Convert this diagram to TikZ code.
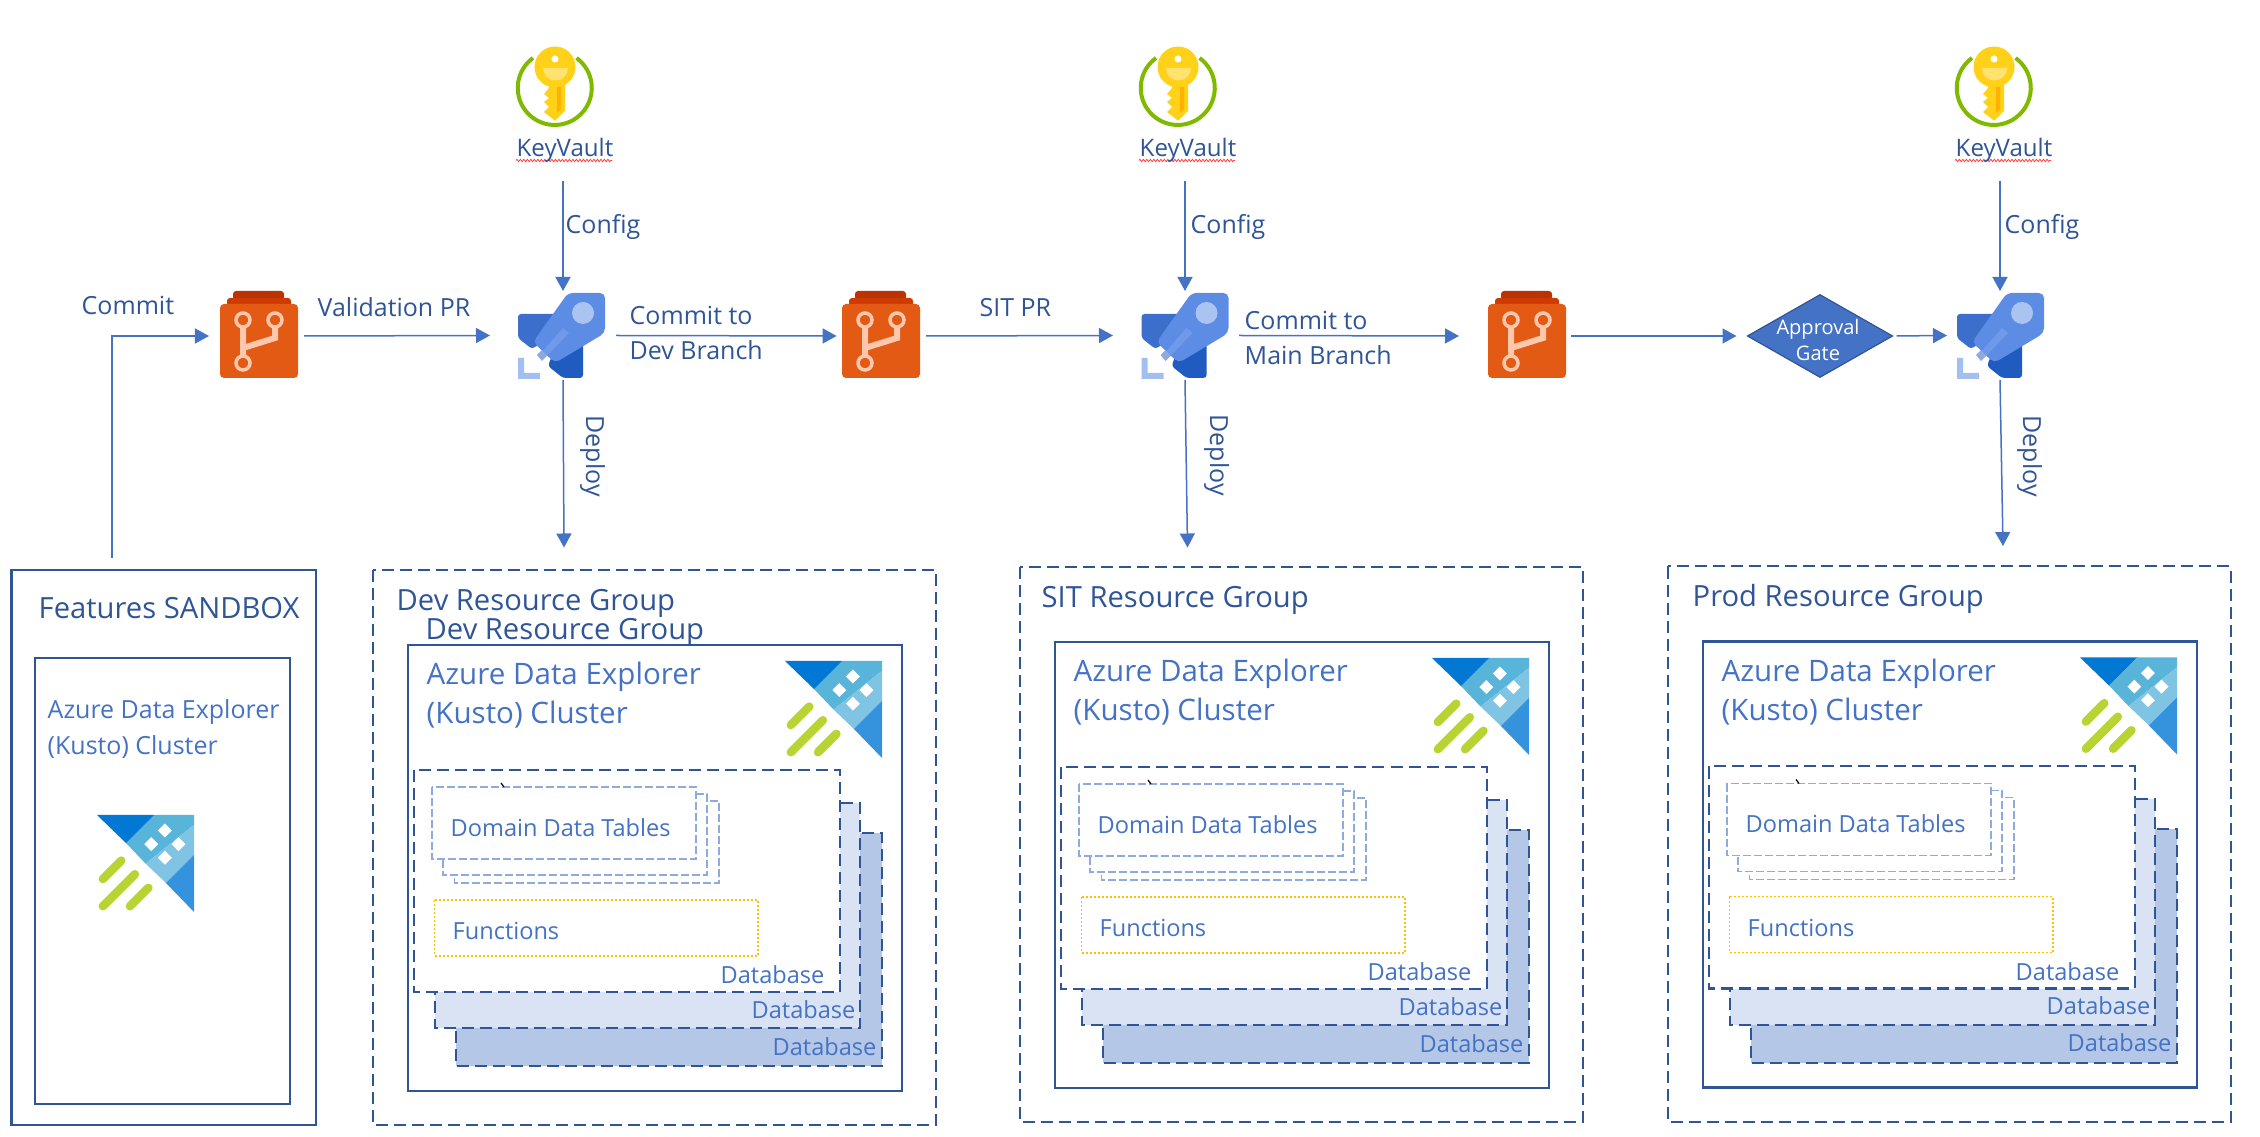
\documentclass[tikz,border=0pt]{standalone}
\usepackage{fontspec}
\setmainfont{Open Sans}
\usetikzlibrary{arrows.meta,shapes.geometric,decorations.pathmorphing}
\definecolor{cline}{HTML}{4472C4}
\definecolor{cdark}{HTML}{2F5597}
\definecolor{cdt}{HTML}{8FAADC}
\definecolor{cfun}{HTML}{FFC000}
\definecolor{cdbb}{HTML}{DAE3F3}
\definecolor{cdbc}{HTML}{B4C7E7}
\definecolor{repoa}{HTML}{E25A14}
\definecolor{repob}{HTML}{CF3A00}
\definecolor{repoc}{HTML}{BB3300}
\definecolor{repol}{HTML}{FFC7AC}
\definecolor{pipea}{HTML}{3B6FCB}
\definecolor{pipeb}{HTML}{205BC0}
\definecolor{pipec}{HTML}{5C8CE3}
\definecolor{piped}{HTML}{AAC3F0}
\definecolor{pipee}{HTML}{6F9AEC}
\definecolor{pipef}{HTML}{A3BFF2}
\definecolor{keya}{HTML}{FFD118}
\definecolor{keyb}{HTML}{FFE270}
\definecolor{keyc}{HTML}{FFB100}
\definecolor{keyr}{HTML}{7FB900}
\definecolor{kua}{HTML}{0078D4}
\definecolor{kub}{HTML}{59B4D9}
\definecolor{kuc}{HTML}{7FC4E2}
\definecolor{kud}{HTML}{3592DC}
\definecolor{kue}{HTML}{B8D432}
\tikzset{
  hit/.style 2 args={minimum width=#1*0.01cm,minimum height=#2*0.01cm,inner sep=0pt,outer sep=0pt},
  conn/.style={draw=cline,line width=0.015cm,-{Triangle[width=0.15cm,length=0.14cm]}},
  lab/.style={anchor=base west,inner sep=0pt,text=cdark,font=\fontsize{7.1pt}{8pt}\selectfont},
  kvl/.style={anchor=base west,inner sep=0pt,text=cdark,font=\fontsize{6.85pt}{8pt}\selectfont},
  ttl/.style={anchor=base west,inner sep=0pt,text=cdark,font=\fontsize{8.3pt}{9pt}\selectfont},
  big/.style={anchor=base west,inner sep=0pt,text=cline,font=\fontsize{8.4pt}{9pt}\selectfont},
  mid/.style={anchor=base west,inner sep=0pt,text=cline,font=\fontsize{6.7pt}{8pt}\selectfont},
  sml/.style={anchor=base west,inner sep=0pt,text=cline,font=\fontsize{7.1pt}{8pt}\selectfont},
  solidbox/.style={draw=cdark,line width=0.025cm},
  rgbox/.style={draw=cdark,line width=0.02cm,dash pattern=on 0.12cm off 0.06cm},
  dbbox/.style={draw=cdark,line width=0.02cm,dash pattern=on 0.12cm off 0.06cm},
  dtbox/.style={draw=cdt,fill=white,line width=0.015cm,dash pattern=on 0.08cm off 0.03cm},
  funbox/.style={draw=cfun,line width=0.018cm,dash pattern=on 0.02cm off 0.02cm},
}
\newcommand\kvicon[1]{\begin{scope}[shift={(#1,0)}]
  \draw[keyr,line width=0.04cm] (533,58) arc[start angle=126,end angle=414,radius=0.37cm];
  \fill[keya] (555,67) circle[radius=0.205cm];
  \fill[keyb] (543,68) arc[start angle=180,end angle=360,radius=0.125cm] -- cycle;
  \fill[white] (555,59) circle[radius=0.035cm];
  \fill[keya] (549,83) -- (565,83) -- (565,111) -- (555,120.7) -- (544,112) -- (549,107) -- (544,102) -- (549,98) -- (544,94) -- (549,88) -- cycle;
  \fill[keyc] (557,87) -- (561,87) -- (561,109) -- (557,113) -- cycle;
  \draw[red!75!white,line width=0.008cm,decorate,decoration={zigzag,amplitude=0.012cm,segment length=0.035cm}] (516,160.5) -- (612,160.5);
\end{scope}}
\newcommand\repoicon[1]{\begin{scope}[shift={(#1,0)}]
  \fill[repoc,rounded corners=0.03cm] (233,300) -- (233,291) -- (284,291) -- (284,300) -- cycle;
  \fill[repob,rounded corners=0.03cm] (227,308) -- (227,298) -- (291,298) -- (291,308) -- cycle;
  \fill[repoa,rounded corners=0.04cm] (220,304) rectangle (298,378);
  \draw[repol,line width=0.06cm] (243,328) -- (243,355) (275,328) -- (275,338) -- (243,348);
  \draw[repol,line width=0.035cm] (243,320) circle[radius=0.07cm] (275,320) circle[radius=0.07cm] (243,363) circle[radius=0.07cm];
\end{scope}}
\newcommand\pipeicon[1]{\begin{scope}[shift={(#1,0)}]
  \fill[pipea,rounded corners=0.03cm] (518,314) -- (560,314) -- (560,330) -- (532,349) -- (518,338) -- cycle;
  \fill[pipeb,rounded corners=0.03cm] (560,335) -- (583,335) -- (583,378) -- (563,378) -- (548,366) -- cycle;
  \fill[pipec,rounded corners=0.05cm] (568,293) -- (605,293) -- (605,333) -- (555,363) -- (533,342) -- cycle;
  \fill[piped] (583,313) circle[radius=0.11cm];
  \fill[pipee] (563,328) -- (569,333) -- (547,356) -- (542,352) -- cycle;
  \fill[cdt] (537,355) -- (542,350) -- (547,356) -- (542,361) -- cycle;
  \fill[pipef] (518,358) -- (524,358) -- (524,373) -- (540,373) -- (540,379) -- (518,379) -- cycle;
\end{scope}}
\newcommand\kusto[2]{\begin{scope}[shift={(#1,#2)},x=0.97cm,y=-0.97cm]
  \fill[kua] (0,0) -- (0.59,0) -- (0.3,0.29) -- cycle;
  \fill[kub] (0.59,0) -- (1,0) -- (1,0.1) -- (0.5,0.5) -- (0.3,0.29) -- cycle;
  \fill[kuc] (1,0.1) -- (1,0.41) -- (0.71,0.7) -- (0.5,0.5) -- cycle;
  \fill[kud] (1,0.41) -- (1,1) -- (0.71,0.7) -- cycle;
  \foreach \p/\q in {0.7/0.16,0.56/0.3,0.84/0.3,0.7/0.44}
    \fill[white] (\p-0.072,\q) -- (\p,\q-0.072) -- (\p+0.072,\q) -- (\p,\q+0.072) -- cycle;
  \draw[kue,line width=0.085cm,line cap=round] (0.25,0.47) -- (0.06,0.66) (0.39,0.61) -- (0.06,0.94) (0.53,0.75) -- (0.34,0.94);
\end{scope}}
\newcommand\resgroup[3]{\begin{scope}[shift={(#1,#2)}]
  \draw[rgbox] (373,570) rectangle (936,1125);
  \draw[solidbox] (408,645) rectangle (902,1091);
  \node[big] (#3aza) at (426,685) {Azure Data Explorer};
  \node[big] (#3azb) at (426,724) {(Kusto) Cluster};
  \kusto{785}{661}
  \draw[dbbox,fill=cdbc] (456,833) rectangle (882,1066);
  \draw[dbbox,fill=cdbb] (434.5,803) rectangle (860,1028);
  \draw[dbbox,fill=white] (414,770) rectangle (840,992);
  \draw[dtbox] (454.5,801) rectangle (719,883);
  \draw[dtbox] (443,794) rectangle (707,875);
  \draw[dtbox] (432,787) rectangle (696,859);
  \draw[black,line width=0.012cm] (501,783) -- (504,787);
  \node[mid] (#3dt) at (450,836.5) {Domain Data Tables};
  \draw[funbox] (434.5,900) rectangle (758,956);
  \node[mid] (#3fn) at (452,939.5) {Functions};
  \node[mid] (#3dba) at (720,984) {Database};
  \node[mid] (#3dbb) at (751,1018) {Database};
  \node[mid] (#3dbc) at (772,1055) {Database};
\end{scope}}
\begin{document}
\begin{tikzpicture}[x=0.01cm,y=-0.01cm]
\useasboundingbox (0,0) rectangle (2260,1137);
% icons
\kvicon{0}\kvicon{623}\kvicon{1439}
\repoicon{0}\repoicon{622}\repoicon{1268}
\pipeicon{0}\pipeicon{623.5}\pipeicon{1439}
% layout anchors for connectors
\node[hit={100}{135}] (key1) at (563,113.5) {};
\node[hit={100}{135}] (key2) at (1185,113.5) {};
\node[hit={100}{135}] (key3) at (2000,113.5) {};
\node[hit={95}{87}] (repo1) at (256.5,336) {};
\node[hit={89.4}{87}] (repo2) at (881.3,336) {};
\node[hit={112}{87}] (repo3) at (1515,336) {};
\node[hit={126}{89}] (pipe1) at (553,335.5) {};
\node[hit={126}{89}] (pipe2) at (1176,335.5) {};
\node[hit={126}{89}] (pipe3) at (2010,335.5) {};
\coordinate (cstart) at (112,558);
\coordinate (dep1) at (564,547.5);
\coordinate (dep2) at (1187.5,547.5);
\coordinate (dep3) at (2003,546);
\node[diamond,draw=cdark,fill=cline,line width=0.012cm,hit={145}{82.5}] (gate) at (1820,336) {};
% connectors
\draw[conn] (cstart) |- (repo1.west);
\draw[conn] (repo1.east) -- (pipe1.west);
\draw[conn] (pipe1.east) -- (repo2.west);
\draw[conn] (repo2.east) -- (pipe2.west);
\draw[conn] (pipe2.east) -- (repo3.west);
\draw[conn,shorten >=0.11cm] (repo3.east) -- (gate.west);
\draw[conn,shorten <=0.04cm] (gate.east) -- (pipe3.west);
\draw[conn] (key1.south) -- (key1.south |- pipe1.north);
\draw[conn] (key2.south) -- (key2.south |- pipe2.north);
\draw[conn] (key3.south) -- (key3.south |- pipe3.north);
\draw[conn] (pipe1.south -| key1.south) -- (dep1);
\draw[conn] (pipe2.south -| key2.south) -- (dep2);
\draw[conn] (pipe3.south -| key3.south) -- (dep3);
% labels
\node[kvl] (t1) at (516,157) {KeyVault};
\node[kvl] (t2) at (1139,157) {KeyVault};
\node[kvl] (t3) at (1955,157) {KeyVault};
\node[lab] (c1) at (565,234) {Config};
\node[lab] (c2) at (1190,234) {Config};
\node[lab] (c3) at (2004,234) {Config};
\node[lab] (commit) at (81,315) {Commit};
\node[lab] (val) at (317,317) {Validation PR};
\node[lab] (cd1) at (629,324.5) {Commit to};
\node[lab] (cd2) at (629,359.5) {Dev Branch};
\node[lab] (sit) at (979,317) {SIT PR};
\node[lab] (cm1) at (1244,329.5) {Commit to};
\node[lab] (cm2) at (1244,364.5) {Main Branch};
\node[lab,rotate=-90] (d1) at (586,415) {Deploy};
\node[lab,rotate=-90] (d2) at (1210,414) {Deploy};
\node[lab,rotate=-90] (d3) at (2023,415) {Deploy};
\node[anchor=center,inner sep=0pt,text=white,align=center,font=\fontsize{5.7pt}{7.3pt}\selectfont] (gatet) at (1818,340) {Approval\\Gate};
% sandbox
\draw[solidbox] (11.5,570) rectangle (316,1125);
\draw[solidbox] (35,658) rectangle (290,1104);
\node[ttl] (sbt) at (38,618.5) {Features SANDBOX};
\node[sml] (sba) at (47,719) {Azure Data Explorer};
\node[sml] (sbb) at (47,755) {(Kusto) Cluster};
\kusto{97}{815}
% resource groups
\resgroup{0}{0}{dev}
\resgroup{647}{-3}{sit}
\resgroup{1295}{-3.5}{prod}
\node[ttl] (devt1) at (396,611) {Dev Resource Group};
\node[ttl] (devt2) at (425,640) {Dev Resource Group};
\node[ttl] (sitt) at (1041,608) {SIT Resource Group};
\node[ttl] (prodt) at (1692,607) {Prod Resource Group};
\end{tikzpicture}
\end{document}
